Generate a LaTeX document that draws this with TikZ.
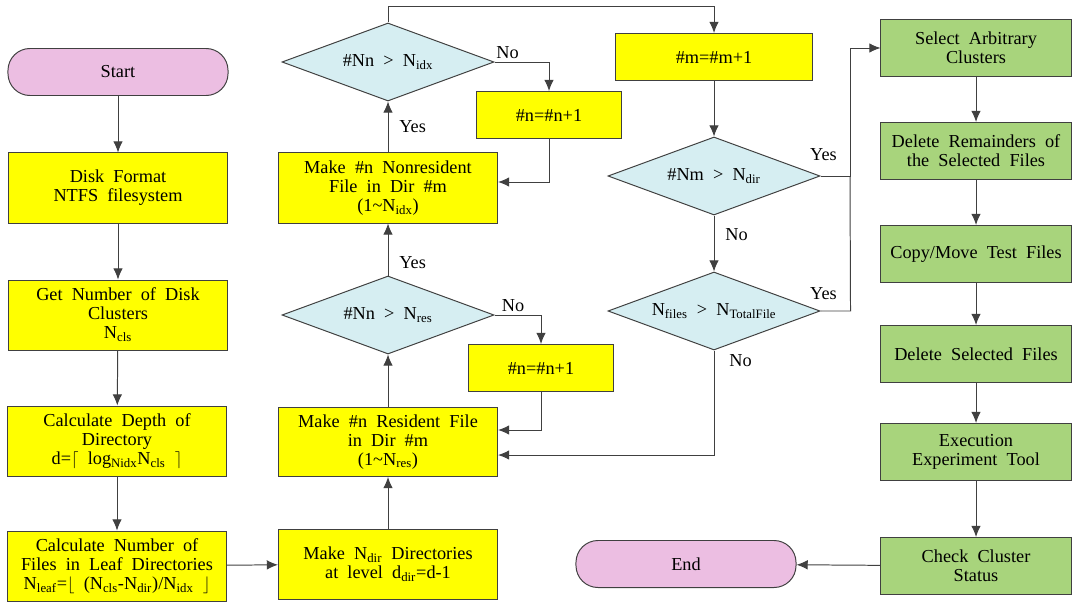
\documentclass[tikz,border=0pt]{standalone}
\usepackage{fontspec}
\setmainfont{Liberation Serif}
\usepackage{tikz}
\usetikzlibrary{shapes.geometric, arrows.meta, positioning, calc}
\definecolor{procyellow}{RGB}{255,255,0}
\definecolor{decblue}{RGB}{214,238,242}
\definecolor{actgreen}{RGB}{168,212,124}
\definecolor{termpink}{RGB}{236,190,226}
\newcommand{\subtxt}[1]{\textsubscript{#1}}
\newcommand{\boxfont}{\fontsize{13}{13.5}\selectfont\spaceskip 0.5em plus 0.1em\relax}

\begin{document}
\begin{tikzpicture}[x=0.025cm, y=-0.025cm,
    every node/.style={font={\boxfont}},
    proc/.style={rectangle, draw=black!75, line width=0.7pt, fill=procyellow, align=center, inner sep=0pt, minimum width=5.475cm, minimum height=1.75cm},
    incbox/.style={proc, minimum width=3.625cm, minimum height=1.175cm},
    term/.style={rectangle, rounded corners=0.55cm, draw=black!75, line width=0.7pt, fill=termpink, minimum width=5.5cm, minimum height=1.175cm},
    dec/.style={diamond, aspect=2.75, draw=black!75, line width=0.7pt, fill=decblue, inner sep=0pt, minimum width=5.3cm, minimum height=1.95cm},
    act/.style={rectangle, draw=black!75, line width=0.7pt, fill=actgreen, align=center, inner sep=0pt, minimum width=4.75cm, minimum height=1.425cm},
    conn/.style={draw=black!75, line width=0.7pt},
    arr/.style={conn, -{Latex[length=2.8mm,width=2.4mm]}},
    lbl/.style={inner sep=2pt}]

    \useasboundingbox (0,0) rectangle (1072,604);

    \node [term] (start) at (118,72) {Start};
    \node [proc] (fmt) at (118,188) {Disk Format\\NTFS filesystem};
    \node [proc] (ncls) at (118,315) {Get Number of Disk\\Clusters\\N\subtxt{cls}};
    \node [proc] (depth) at (117,441) {Calculate Depth of\\Directory\\d=\(\lceil\) log\subtxt{Nidx}N\subtxt{cls} \(\rceil\)};
    \node [proc] (nleaf) at (117,566) {Calculate Number of\\Files in Leaf Directories\\N\subtxt{leaf}=\(\lfloor\) (N\subtxt{cls}-N\subtxt{dir})/N\subtxt{idx} \(\rfloor\)};

    \node [proc] (ndir) at (388,564) {Make N\subtxt{dir} Directories\\at level d\subtxt{dir}=d-1};
    \node [proc, minimum height=1.725cm] (res) at (388,442) {Make \#n Resident File\\in Dir \#m\\(1\textasciitilde N\subtxt{res})};
    \node [dec] (dres) at (388,315) {\#Nn > N\subtxt{res}};
    \node [incbox] (incres) at (541,368) {\#n=\#n+1};
    \node [proc] (nonres) at (388,188) {Make \#n Nonresident\\File in Dir \#m\\(1\textasciitilde N\subtxt{idx})};
    \node [dec] (didx) at (388,62) {\#Nn > N\subtxt{idx}};
    \node [incbox] (incidx) at (549,115) {\#n=\#n+1};

    \node [incbox, minimum width=4.925cm] (incm) at (714,57) {\#m=\#m+1};
    \node [dec] (dnm) at (714,176) {\#Nm > N\subtxt{dir}};
    \node [dec] (dtot) at (714,311) {N\subtxt{files} > N\subtxt{TotalFile}};
    \coordinate (bus) at (850,176);
    \node [term] (finish) at (686,564) {End};

    \node [act] (select) at (976,48) {Select Arbitrary\\Clusters};
    \node [act] (remain) at (976,151) {Delete Remainders of\\the Selected Files};
    \node [act] (copy) at (976,254) {Copy/Move Test Files};
    \node [act] (delsel) at (976,354) {Delete Selected Files};
    \node [act] (exec) at (976,452) {Execution\\Experiment Tool};
    \node [act] (check) at (976,566) {Check Cluster\\Status};

    \draw [arr] (start) -- (fmt);
    \draw [arr] (fmt) -- (ncls);
    \draw [arr] (ncls) -- (depth);
    \draw [arr] (depth) -- (nleaf);
    \draw [arr] (nleaf) -- (ndir);
    \draw [arr] (ndir) -- (res);
    \draw [arr] (res) -- (dres);
    \draw [arr] (dres) -- node[lbl, pos=0.25, right, xshift=0.2cm]{Yes} (nonres);
    \draw [arr] (dres.east) -| node[lbl, pos=0.2, above]{No} (incres.north);
    \draw [arr] (incres.south) |- ([yshift=0.3cm]res.east);
    \draw [arr] (nonres) -- node[lbl, right, xshift=0.2cm]{Yes} (didx);
    \draw [arr] (didx.east) -| node[lbl, pos=0.12, above]{No} (incidx.north);
    \draw [arr] (incidx.south) |- ([yshift=0.15cm]nonres.east);
    \draw [arr] (didx.north) -- ++(0,-16) -| (incm.north);
    \draw [arr] (incm) -- (dnm);
    \draw [arr] (dnm) -- node[lbl, pos=0.35, right, xshift=0.2cm]{No} (dtot);
    \draw [arr] (dnm.east) -- node[lbl, pos=0.1, above, yshift=0.3cm]{Yes} (bus) |- (select.west);
    \draw [conn] (dtot.east) -- node[lbl, pos=0.1, above, yshift=0.2cm]{Yes} ++(30,0) -- (bus);
    \draw [arr] (dtot.south) |- node[lbl, pos=0.05, right, xshift=0.3cm]{No} ([yshift=-0.325cm]res.east);
    \draw [arr] (select) -- (remain);
    \draw [arr] (remain) -- (copy);
    \draw [arr] (copy) -- (delsel);
    \draw [arr] (delsel) -- (exec);
    \draw [arr] (exec) -- (check);
    \draw [arr] (check) -- (finish);
\end{tikzpicture}
\end{document}
